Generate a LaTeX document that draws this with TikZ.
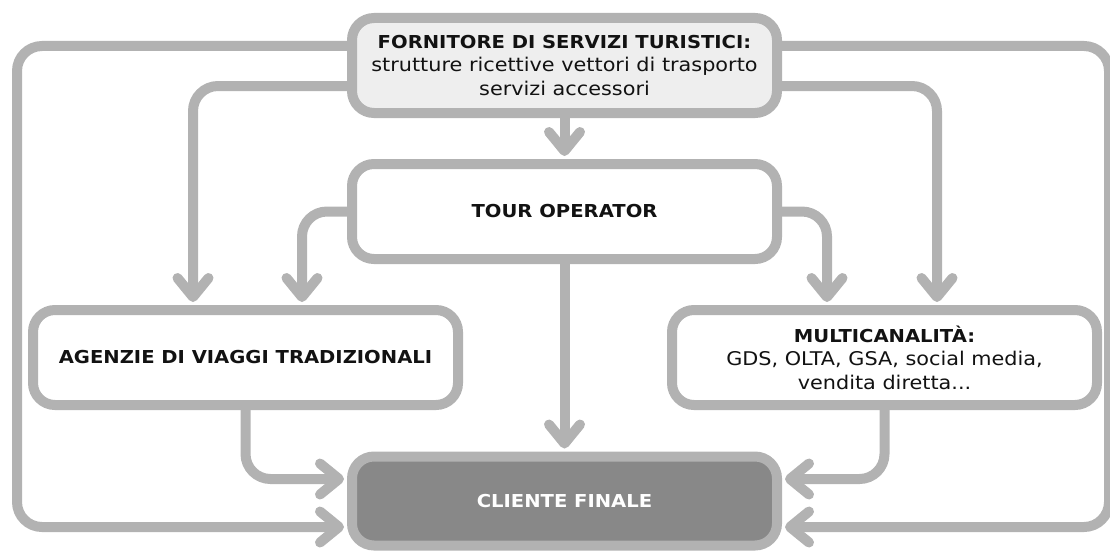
\documentclass[tikz,border=0pt]{standalone}
\usepackage{fontspec}
\setmainfont{DejaVu Sans}[FakeStretch=1.1]
\usetikzlibrary{arrows.meta}
\definecolor{ln}{RGB}{178,178,178}
\definecolor{topfill}{RGB}{238,238,238}
\definecolor{cf}{RGB}{136,136,136}
\definecolor{txt}{RGB}{18,18,18}
\newcommand\hb[1]{{\fontsize{17.8}{24}\selectfont\bfseries #1}}
\begin{document}
\begin{tikzpicture}[x=1pt,y=-1pt,
  box/.style={draw=ln, line width=10pt, rounded corners=22pt, minimum width=425pt,
    minimum height=95pt, align=center, fill=white, text=txt, inner sep=0pt,
    font=\fontsize{18.9}{23.5}\selectfont},
  conn/.style={draw=ln, line width=10pt, rounded corners=25pt,
    -{Straight Barb[length=19pt,width=31pt,round]}, shorten >=3pt},
  ]
\useasboundingbox (0,0) rectangle (1110,551);
\node[box, fill=topfill] (top) at (564.5,65.5)
  {\hb{FORNITORE DI SERVIZI TURISTICI:}\\strutture ricettive vettori di trasporto\\servizi accessori};
\node[box] (tour) at (564.5,211.5) {\hb{TOUR OPERATOR}};
\node[box] (agz) at (245.5,357.5) {\hb{AGENZIE DI VIAGGI TRADIZIONALI}};
\node[box] (mul) at (884.5,357.5)
  {\hb{MULTICANALITÀ:}\\GDS, OLTA, GSA, social media,\\vendita diretta...};
\node[box, fill=cf, text=white, minimum height=89pt] (cli) at (564.5,501)
  {\hb{CLIENTE FINALE}};

\draw[conn] ([yshift=19.5pt]top.west) -| (17,527) -- ([yshift=-26pt]cli.west);
\draw[conn] ([yshift=-20.5pt]top.west) -| ([xshift=-52.5pt]agz.north);
\draw[conn] (top.south) -- (tour.north);
\draw[conn] (tour.west) -| ([xshift=56.5pt]agz.north);
\draw[conn] (tour.east) -| ([xshift=-57.5pt]mul.north);
\draw[conn] ([yshift=-20.5pt]top.east) -| ([xshift=52.5pt]mul.north);
\draw[conn] ([yshift=19.5pt]top.east) -| (1109,527) -- ([yshift=-26pt]cli.east);
\draw[conn] (tour.south) -- (cli.north);
\draw[conn] (agz.south) |- ([yshift=22pt]cli.west);
\draw[conn] (mul.south) |- ([yshift=22pt]cli.east);
\end{tikzpicture}
\end{document}
